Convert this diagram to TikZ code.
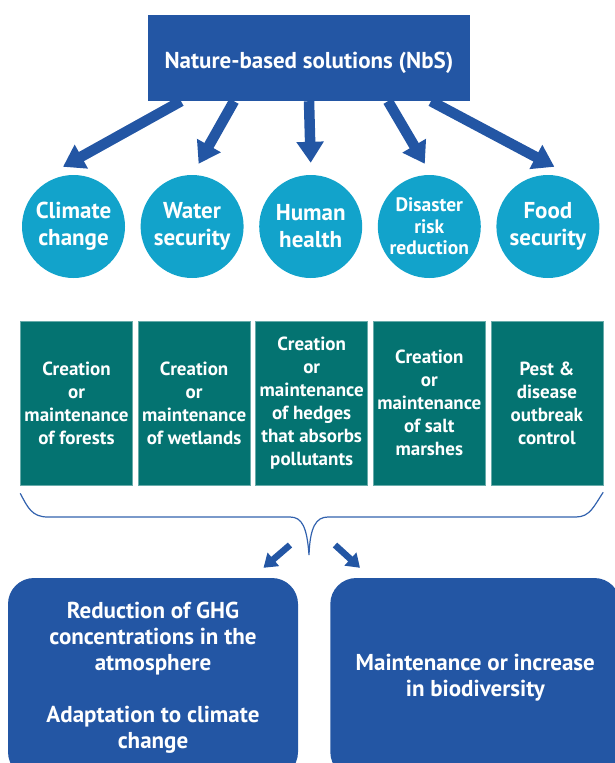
\documentclass[tikz,border=0pt]{standalone}
\usepackage{fontspec}
\setmainfont{PT Sans}
\usetikzlibrary{arrows.meta, positioning, calc}
\definecolor{nbsblue}{HTML}{2356A4}
\definecolor{goalcyan}{HTML}{12A3CB}
\definecolor{actteal}{HTML}{047371}
\definecolor{bracecol}{HTML}{3262AE}

\begin{document}
\begin{tikzpicture}[
  x=1pt, y=-1pt,
  headbox/.style={fill=nbsblue, minimum width=322, minimum height=86, text=white,
                  text height=26pt, text depth=5pt,
                  font=\fontsize{23}{27}\selectfont\bfseries},
  goal/.style={circle, fill=goalcyan, minimum size=103, inner sep=0pt, text=white,
               align=center, font=\fontsize{23}{27}\selectfont\bfseries},
  action/.style={fill=actteal, draw=actteal!60!white, line width=0.6pt,
                 minimum width=112, minimum height=164, inner sep=0pt, text=white,
                 align=center, font=\fontsize{19}{23}\selectfont\bfseries},
  result/.style={fill=nbsblue, rounded corners=26pt, minimum width=290, minimum height=200,
                 text=white, align=center, font=\fontsize{23}{26}\selectfont\bfseries},
  thickarr/.style={-{Triangle[length=21pt, width=26pt]}, line width=10.5pt, color=nbsblue},
  smallarr/.style={-{Triangle[length=13pt, width=17pt]}, line width=6.5pt, color=nbsblue},
  bracel/.style={draw=bracecol, line width=1.2pt},
]
\useasboundingbox (0,0) rectangle (615,763);
\clip (0,0) rectangle (615,763);

% top
\node[headbox] (nbs) at (309,58) {Nature-based solutions (NbS)};

% societal challenges
\node[goal] (cc) at (73.5,226.5) {Climate\\change};
\node[goal, right=15.2pt of cc] (ws) {Water\\security};
\node[goal, right=15.2pt of ws] (hh) {Human\\health};
\node[goal, right=15.2pt of hh, font=\fontsize{19.5}{21.7}\selectfont\bfseries] (drr)
  {Disaster\\risk\\reduction};
\node[goal, right=15.2pt of drr] (fs) {Food\\security};

\foreach \g/\sx/\tx/\ty in {cc/-128/-10.5/8, ws/-75/6.5/11, hh/0/0/12,
                            drr/79/-4.5/11, fs/122/6.5/8}
  { \draw[thickarr] ([xshift=\sx]nbs.south) -- ([xshift=\tx, yshift=\ty]\g.north); }

% example actions
\node[action] (a1) at (76.5,403) {Creation\\or\\maintenance\\of forests};
\node[action, right=5pt of a1] (a2) {Creation\\or\\maintenance\\of wetlands};
\node[action, right=5pt of a2] (a3)
  {Creation\\or\\maintenance\\of hedges\\that absorbs\\pollutants};
\node[action, right=5pt of a3] (a4) {Creation\\or\\maintenance\\of salt\\marshes};
\node[action, right=5pt of a4] (a5) {Pest \&\\disease\\outbreak\\control};

% brace under the actions
\coordinate (bl) at ([yshift=-8]a1.south west);
\coordinate (br) at ([yshift=-7]a5.south east);
\coordinate (btip) at (309,555);
\draw[bracel] (bl) .. controls (28,508) and (32,517) .. (48,517) -- (290,517)
  .. controls (302,517) and (307,527) .. (btip)
  .. controls (310,527) and (316,517) .. (328,517) -- (576,517)
  .. controls (590,517) and (594,506) .. (br);

% outcomes
\node[result] (r1) at (153,678)
  {Reduction of GHG\\concentrations in the\\atmosphere\\[26pt]Adaptation to climate\\change};
\node[result] (r2) at (475.3,678) {Maintenance or increase\\in biodiversity};

\coordinate (sl) at (290,545);
\coordinate (sr) at (335,545);
\draw[smallarr] (sl) -- ([xshift=110.5, yshift=10]r1.north);
\draw[smallarr] (sr) -- ([xshift=-115.3, yshift=10]r2.north);

\end{tikzpicture}
\end{document}
